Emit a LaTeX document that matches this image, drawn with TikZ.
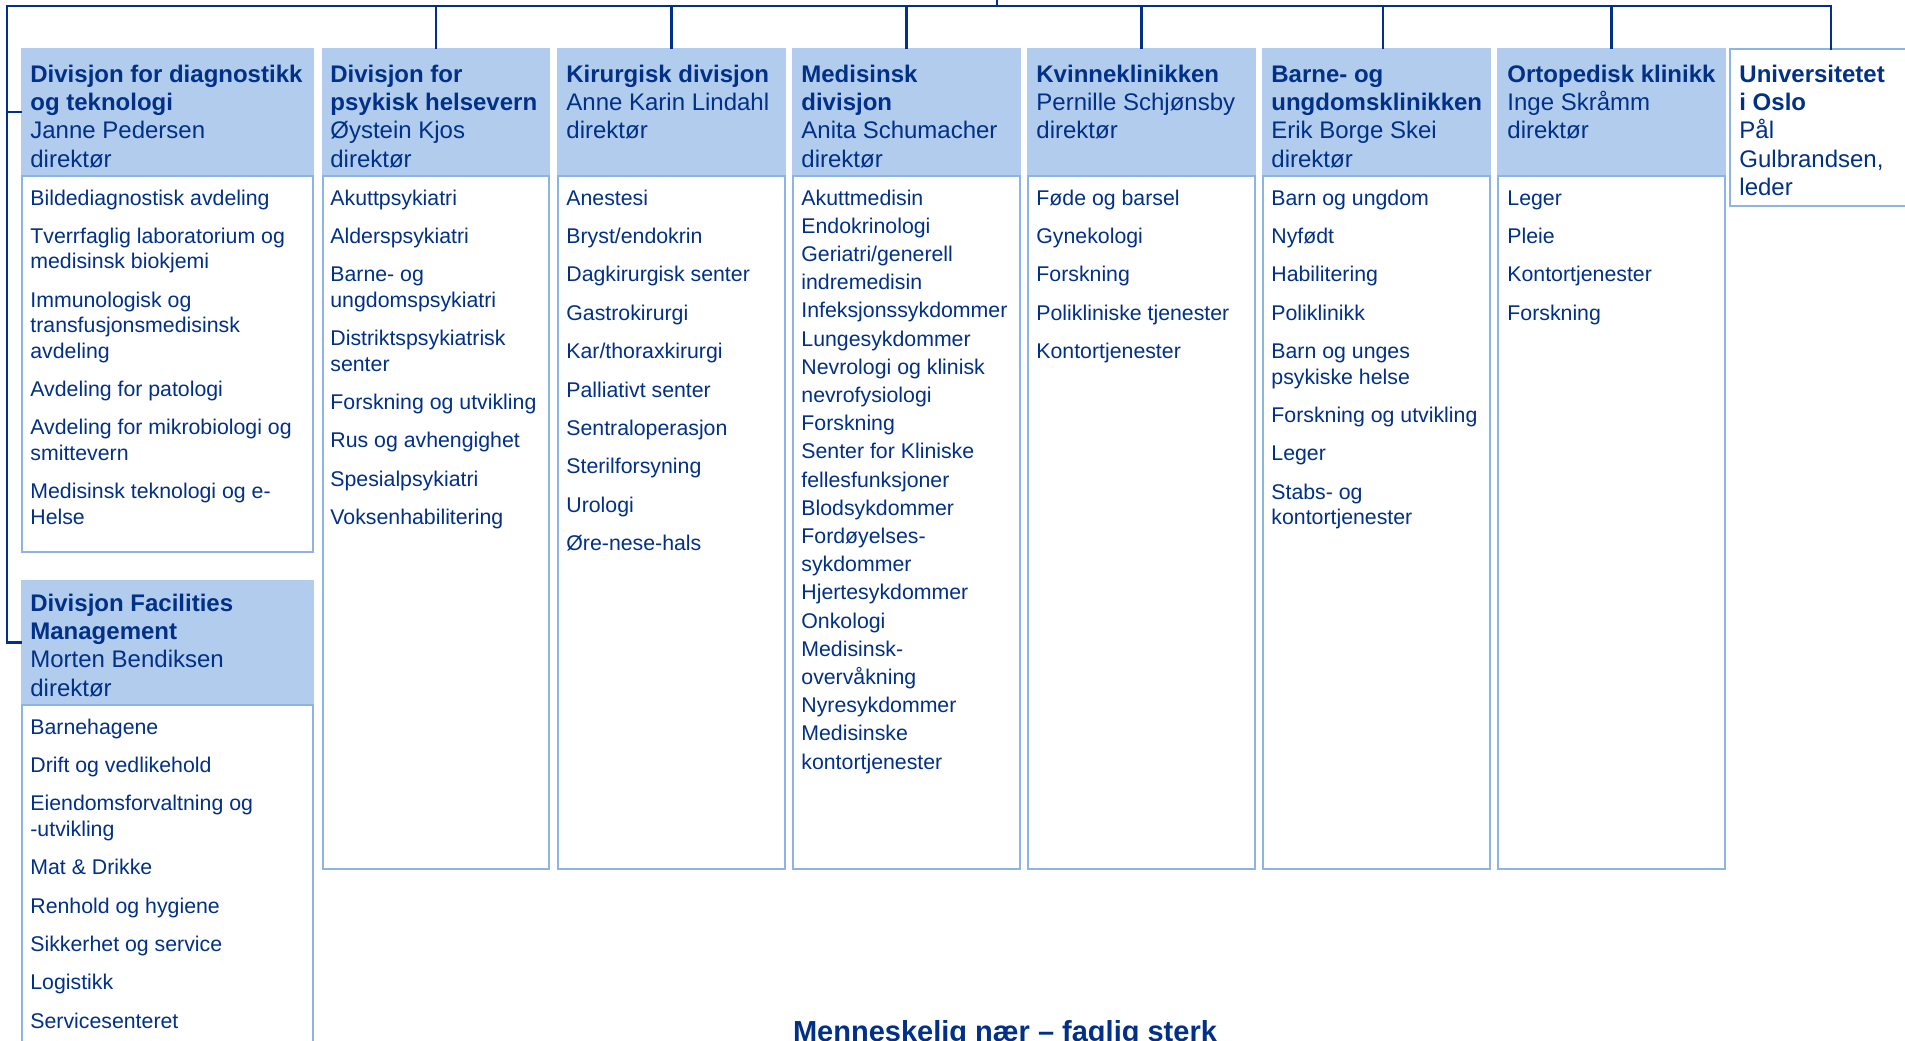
\documentclass[tikz,border=0pt]{standalone}
\usepackage{fontspec}
\setmainfont{Liberation Sans}
\definecolor{navy}{RGB}{0,48,135}
\definecolor{hdrfill}{RGB}{177,204,236}
\definecolor{bord}{RGB}{141,180,226}
\tikzset{
  hdr/.style={fill=hdrfill, draw=none, inner sep=0pt, outer sep=0pt, anchor=north west},
  bodybox/.style={draw=bord, line width=1.3pt, fill=white, inner sep=0pt, outer sep=0pt, anchor=north west},
  conn/.style={draw=navy, line width=1.2pt, line cap=rect, line join=miter},
  htext/.style={anchor=base west, inner sep=0pt, text=navy, font=\fontsize{12}{14.17}\selectfont},
  itext/.style={anchor=base west, inner sep=0pt, text=navy, font=\fontsize{10.65}{12.7}\selectfont},
  mtext/.style={anchor=base west, inner sep=0pt, text=navy, font=\fontsize{10.65}{14.1}\selectfont},
  motto/.style={anchor=base, inner sep=0pt, text=navy, font=\bfseries\fontsize{14.5}{17}\selectfont},
}
\newcommand\bx[6]{\node[#1, minimum width={(#5-#3)*0.5pt}, minimum height={(#6-#4)*0.5pt}] (#2) at (#3,#4) {};}
\newcommand\nb{\\[6.5pt]}
\newcommand\tl[1]{\begin{tabular}[t]{@{}l@{}}#1\end{tabular}}
\begin{document}
\begin{tikzpicture}[x=0.5pt,y=-0.5pt]
\useasboundingbox (0,0) rectangle (1905,1040);
\clip (0,0) rectangle (1905,1040);
% connector coordinates
\coordinate (busL) at (7,6);
\coordinate (busR) at (1831,6);
\coordinate (root) at (997,-10);
% header boxes
\bx{hdr}{h1}{21}{48}{314}{176}
\bx{hdr}{h2}{322}{48}{550}{176}
\bx{hdr}{h3}{557}{48}{786}{176}
\bx{hdr}{h4}{792}{48}{1021}{176}
\bx{hdr}{h5}{1027}{48}{1256}{176}
\bx{hdr}{h6}{1262}{48}{1491}{176}
\bx{hdr}{h7}{1497}{48}{1726}{176}
\bx{bodybox}{h8}{1730}{49}{1932}{206}
\bx{hdr}{hF}{21}{580}{314}{705}
% body boxes
\bx{bodybox}{b1}{22}{176}{313}{552}
\bx{bodybox}{b2}{323}{176}{549}{869}
\bx{bodybox}{b3}{558}{176}{785}{869}
\bx{bodybox}{b4}{793}{176}{1020}{869}
\bx{bodybox}{b5}{1028}{176}{1255}{869}
\bx{bodybox}{b6}{1263}{176}{1490}{869}
\bx{bodybox}{b7}{1498}{176}{1725}{869}
\bx{bodybox}{bF}{22}{705}{313}{1070}
% connectors
\draw[conn] (h1.west) -| (busL) -- (busR) -- (h8.north);
\draw[conn] (hF.west) -| (busL);
\draw[conn] (root) -- (root |- busL);
\foreach \h in {h2,h3,h4,h5,h7}{
  \draw[conn] (\h.north) -- (\h.north |- busL);
}
\draw[conn] ([xshift=3.25pt]h6.north) -- ([xshift=3.25pt]h6.north |- busL);
% header texts
\node[htext] (t1) at (30,82) {\tl{\textbf{Divisjon for diagnostikk}\\\textbf{og teknologi}\\Janne Pedersen\\direktør}};
\node[htext] (t2) at (330,82) {\tl{\textbf{Divisjon for}\\\textbf{psykisk helsevern}\\Øystein Kjos\\direktør}};
\node[htext] (t3) at (566,82) {\tl{\textbf{Kirurgisk divisjon}\\Anne Karin Lindahl\\direktør}};
\node[htext] (t4) at (801,82) {\tl{\textbf{Medisinsk}\\\textbf{divisjon}\\Anita Schumacher\\direktør}};
\node[htext] (t5) at (1036,82) {\tl{\textbf{Kvinneklinikken}\\Pernille Schjønsby\\direktør}};
\node[htext] (t6) at (1271,82) {\tl{\textbf{Barne- og}\\\textbf{ungdomsklinikken}\\Erik Borge Skei\\direktør}};
\node[htext] (t7) at (1507,82) {\tl{\textbf{Ortopedisk klinikk}\\Inge Skråmm\\direktør}};
\node[htext] (t8) at (1739,82) {\tl{\textbf{Universitetet}\\\textbf{i Oslo}\\Pål\\Gulbrandsen,\\leder}};
\node[htext] (tF) at (30,611) {\tl{\textbf{Divisjon Facilities}\\\textbf{Management}\\Morten Bendiksen\\direktør}};
% body texts
\node[itext] (i1) at (30,205) {\tl{Bildediagnostisk avdeling\nb Tverrfaglig laboratorium og\\medisinsk biokjemi\nb Immunologisk og\\transfusjonsmedisinsk\\avdeling\nb Avdeling for patologi\nb Avdeling for mikrobiologi og\\smittevern\nb Medisinsk teknologi og e-\\Helse}};
\node[itext] (i2) at (330,205) {\tl{Akuttpsykiatri\nb Alderspsykiatri\nb Barne- og\\ungdomspsykiatri\nb Distriktspsykiatrisk\\senter\nb Forskning og utvikling\nb Rus og avhengighet\nb Spesialpsykiatri\nb Voksenhabilitering}};
\node[itext] (i3) at (566,205) {\tl{Anestesi\nb Bryst/endokrin\nb Dagkirurgisk senter\nb Gastrokirurgi\nb Kar/thoraxkirurgi\nb Palliativt senter\nb Sentraloperasjon\nb Sterilforsyning\nb Urologi\nb Øre-nese-hals}};
\node[mtext] (i4) at (801,205) {\tl{Akuttmedisin\\Endokrinologi\\Geriatri/generell\\indremedisin\\Infeksjonssykdommer\\Lungesykdommer\\Nevrologi og klinisk\\nevrofysiologi\\Forskning\\Senter for Kliniske\\fellesfunksjoner\\Blodsykdommer\\Fordøyelses-\\sykdommer\\Hjertesykdommer\\Onkologi\\Medisinsk-\\overvåkning\\Nyresykdommer\\Medisinske\\kontortjenester}};
\node[itext] (i5) at (1036,205) {\tl{Føde og barsel\nb Gynekologi\nb Forskning\nb Polikliniske tjenester\nb Kontortjenester}};
\node[itext] (i6) at (1271,205) {\tl{Barn og ungdom\nb Nyfødt\nb Habilitering\nb Poliklinikk\nb Barn og unges\\psykiske helse\nb Forskning og utvikling\nb Leger\nb Stabs- og\\kontortjenester}};
\node[itext] (i7) at (1507,205) {\tl{Leger\nb Pleie\nb Kontortjenester\nb Forskning}};
\node[itext] (iF) at (30,734) {\tl{Barnehagene\nb Drift og vedlikehold\nb Eiendomsforvaltning og\\-utvikling\nb Mat \& Drikke\nb Renhold og hygiene\nb Sikkerhet og service\nb Logistikk\nb Servicesenteret}};
% motto
\node[motto] (m) at (1005,1041) {Menneskelig nær – faglig sterk};
\end{tikzpicture}
\end{document}
